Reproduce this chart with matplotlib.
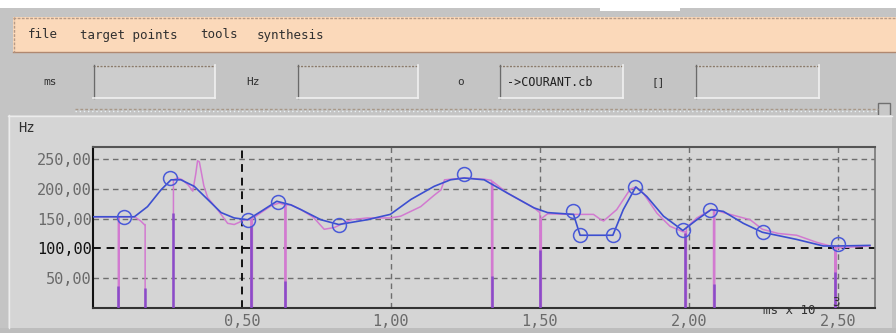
import matplotlib
matplotlib.use("Agg")
import matplotlib.pyplot as plt
from matplotlib.patches import Rectangle
import numpy as np

# ---- data -------------------------------------------------------------
# stylised (target) pitch contour, time in ms x 10^3, frequency in Hz
blue_x = [0.00, 0.139, 0.183, 0.228, 0.262, 0.295, 0.34, 0.385, 0.43, 0.474,
          0.519, 0.564, 0.617, 0.664, 0.698, 0.765, 0.825, 0.92, 0.998, 1.067,
          1.145, 1.20, 1.246, 1.313, 1.39, 1.48, 1.526, 1.613, 1.635, 1.705,
          1.745, 1.78, 1.822, 1.859, 1.915, 1.98, 2.027, 2.075, 2.116, 2.183,
          2.247, 2.362, 2.452, 2.50, 2.608]
blue_y = [153, 153, 170, 198, 215, 215, 204, 182, 160, 151,
          148, 162, 179, 173, 165, 148, 140, 148, 157, 182,
          204, 215, 218, 215, 193, 168, 160, 157, 122, 122,
          122, 165, 203, 187, 154, 130, 148, 165, 162, 142,
          127, 115, 104, 104, 105]

# measured F0 contour (drops to 0 where voicing is lost)
pitch_x = [0.00, 0.085, 0.085, 0.088, 0.088, 0.139, 0.16, 0.172, 0.175, 0.175,
           np.nan,
           0.27, 0.27, 0.285, 0.30, 0.32, 0.335, 0.345, 0.351, 0.357, 0.362,
           0.372, 0.385, 0.418, 0.452, 0.474, 0.51, 0.53, 0.53, 0.535, 0.535,
           0.564, 0.60, 0.625, 0.644, 0.644, 0.648, 0.648, 0.664, 0.698, 0.74,
           0.776, 0.81, 0.866, 0.92, 0.998, 1.033, 1.10, 1.145, 1.168, 1.18,
           1.246, 1.313, 1.338, 1.338, 1.342, 1.342, 1.39, 1.48, 1.50, 1.50,
           1.505, 1.505, 1.526, 1.60, 1.68, 1.705, 1.714, 1.758, 1.803, 1.822,
           1.848, 1.893, 1.937, 1.98, 1.988, 1.988, 1.992, 1.992, 2.027, 2.075,
           2.083, 2.083, 2.087, 2.087, 2.116, 2.161, 2.206, 2.247, 2.30, 2.362,
           2.43, 2.475, 2.49, 2.49, 2.495, 2.495, 2.50, 2.608]
pitch_y = [153, 153, 0, 0, 153, 153, 146, 140, 140, 0,
           np.nan,
           0, 215, 218, 215, 206, 196, 225, 247, 245, 232,
           205, 185, 165, 142, 140, 148, 148, 0, 0, 150,
           160, 172, 176, 173, 0, 0, 173, 173, 165, 152,
           132, 135, 148, 151, 151, 154, 170, 189, 198, 215,
           218, 216, 214, 0, 0, 212, 193, 168, 160, 0,
           0, 150, 158, 157, 157, 148, 146, 165, 199, 203,
           192, 159, 137, 128, 128, 0, 0, 135, 151, 165,
           165, 0, 0, 165, 160, 154, 148, 132, 125, 122,
           110, 104, 103, 0, 0, 101, 101, 104]

# lower (unvoiced) part of each drop-out
drop_x = [0.085, 0.175, 0.27, 0.53, 0.644, 1.338, 1.50, 1.988, 2.083, 2.49]
drop_top = [37, 34, 160, 137, 45, 54, 98, 125, 40, 60]

# target points
target_x = [0.104, 0.26, 0.52, 0.62, 0.825, 1.245, 1.61, 1.635, 1.745, 1.82,
            1.98, 2.07, 2.25, 2.50]
target_y = [153, 218, 148, 178, 140, 225, 162, 122, 122, 203,
            130, 165, 127, 107]

y_ticks = [50, 100, 150, 200, 250]
y_ticklabels = ["50,00", "100,00", "150,00", "200,00", "250,00"]
x_ticks = [0.5, 1.0, 1.5, 2.0, 2.5]
x_ticklabels = ["0,50", "1,00", "1,50", "2,00", "2,50"]

menu_items = ["file", "target points", "tools", "synthesis"]

# ---- figure -----------------------------------------------------------
W, H = 896, 333
fig = plt.figure(figsize=(W / 100, H / 100), dpi=100)
fig.patch.set_facecolor("#c4c4c4")

MONO = "DejaVu Sans Mono"


def rect(x0, y0, x1, y1, **kw):
    r = Rectangle((x0 / W, 1 - y1 / H), (x1 - x0) / W, (y1 - y0) / H,
                  transform=fig.transFigure, **kw)
    fig.add_artist(r)
    return r


def txt(x, y, s, **kw):
    kw.setdefault("family", MONO)
    return fig.text(x / W, 1 - y / H, s, **kw)


def hline(x0, x1, y, **kw):
    fig.add_artist(plt.Line2D([x0 / W, x1 / W], [1 - y / H, 1 - y / H],
                              transform=fig.transFigure, **kw))


def vline(x, y0, y1, **kw):
    fig.add_artist(plt.Line2D([x / W, x / W], [1 - y0 / H, 1 - y1 / H],
                              transform=fig.transFigure, **kw))


# white strip at the very top
rect(0, 0, W, 8, facecolor="white", edgecolor="none")
rect(600, 8, 680, 11, facecolor="white", edgecolor="none")

# menu bar
rect(13, 17, W, 52, facecolor="#fbd9ba", edgecolor="none")
hline(13, W, 17.5, color="#b79a86", lw=1, ls=(0, (2, 1)))
hline(13, W, 51.5, color="#b08870", lw=1)
vline(13.5, 17, 52, color="#b79a86", lw=1, ls=(0, (2, 1)))
menu_x = [28, 80, 200, 257]
for mx, item in zip(menu_x, menu_items):
    txt(mx, 35, item, fontsize=9, color="#303030", va="center")

# field row
fields = [("ms", 50, 93, 215, ""), ("Hz", 253, 297, 418, ""),
          ("o", 461, 499, 623, "->COURANT.cb"), ("[]", 658, 695, 819, "")]
for lab, lx, bx0, bx1, content in fields:
    txt(lx, 82, lab, fontsize=8, color="#303030", ha="center", va="center")
    rect(bx0, 65, bx1, 98, facecolor="#cdcdcd", edgecolor="none")
    hline(bx0, bx1, 66, color="#8a7a6a", lw=1, ls=(0, (1.5, 1)))
    vline(bx0 + 0.5, 65, 98, color="#6a6a6a", lw=1)
    hline(bx0, bx1, 97.5, color="#f0f0f0", lw=1.2)
    vline(bx1 - 0.5, 65, 98, color="#f0f0f0", lw=1.2)
    if content:
        txt(bx0 + 8, 82, content, fontsize=8.5, color="#202020", va="center")

# slider track and thumb
hline(75, 878, 109, color="#a89888", lw=1, ls=(0, (2, 1.5)))
hline(75, 878, 110.5, color="#e8f0f4", lw=1, ls=(0, (1, 2)))
rect(878, 103, 890, 116, facecolor="#c8c8c8", edgecolor="#707070", lw=1)

# plot panel
rect(8, 115, W - 4, 328, facecolor="#d5d5d5", edgecolor="none")
hline(8, W - 4, 115.5, color="#ececec", lw=1)
vline(8.5, 115, 328, color="#ececec", lw=1)
rect(0, 328, W, H, facecolor="#bdbdbd", edgecolor="none")
txt(18, 128, "Hz", fontsize=10, color="#303030", va="center")

# ---- axes -------------------------------------------------------------
ax_l, ax_r, ax_t, ax_b = 93, 875, 147, 308
ax = fig.add_axes([ax_l / W, 1 - ax_b / H, (ax_r - ax_l) / W, (ax_b - ax_t) / H])
ax.set_zorder(2.5)
ax.set_facecolor("#d5d5d5")
ax.set_xlim(0, 2.625)
ax.set_ylim(0, 270)

for yv in y_ticks:
    if yv == 100:
        ax.axhline(yv, color="#111111", lw=1.4, ls=(0, (4, 3)), zorder=1)
    else:
        ax.axhline(yv, color="#6e6e6e", lw=1.0, ls=(0, (4, 3)), zorder=1)
for xv in x_ticks:
    if xv == 0.5:
        ax.axvline(xv, color="#111111", lw=1.4, ls=(0, (4, 3)), zorder=1)
    else:
        ax.axvline(xv, color="#6e6e6e", lw=1.0, ls=(0, (4, 3)), zorder=1)

# measured contour, drop-outs, stylised contour, target points
ax.plot(pitch_x, pitch_y, color="#d27ad0", lw=1.1, zorder=2)
ax.vlines(drop_x, 0, drop_top, color="#8a4cc8", lw=1.8, zorder=3)
ax.plot(blue_x, blue_y, color="#3c4fd0", lw=1.2, zorder=4)
ax.plot(target_x, target_y, ls="none", marker="o", ms=10, mfc="none",
        mec="#4a5ad8", mew=1.1, zorder=5)

ax.set_yticks(y_ticks)
ax.set_yticklabels(y_ticklabels)
ax.set_xticks(x_ticks)
ax.set_xticklabels(x_ticklabels)
ax.tick_params(length=0, pad=1)
for lab in ax.get_yticklabels():
    lab.set_family(MONO)
    lab.set_fontsize(11)
    lab.set_color("#111111" if lab.get_text() == "100,00" else "#6a6a6a")
for lab in ax.get_xticklabels():
    lab.set_family(MONO)
    lab.set_fontsize(11)
    lab.set_color("#6a6a6a")
ax.tick_params(axis="x", pad=4)

ax.spines["left"].set_color("#111111")
ax.spines["left"].set_linewidth(1.5)
ax.spines["bottom"].set_color("#333333")
ax.spines["bottom"].set_linewidth(1.5)
ax.spines["top"].set_color("#555555")
ax.spines["top"].set_linewidth(1.5)
ax.spines["right"].set_color("#777777")
ax.spines["right"].set_linewidth(1.2)

# axis unit label
txt(763, 310, "ms x 10", fontsize=9, color="#303030", va="center", zorder=4)
txt(832, 302, "3", fontsize=9, color="#303030", va="center", zorder=4)

fig.savefig("out.png", dpi=100, facecolor=fig.get_facecolor())
